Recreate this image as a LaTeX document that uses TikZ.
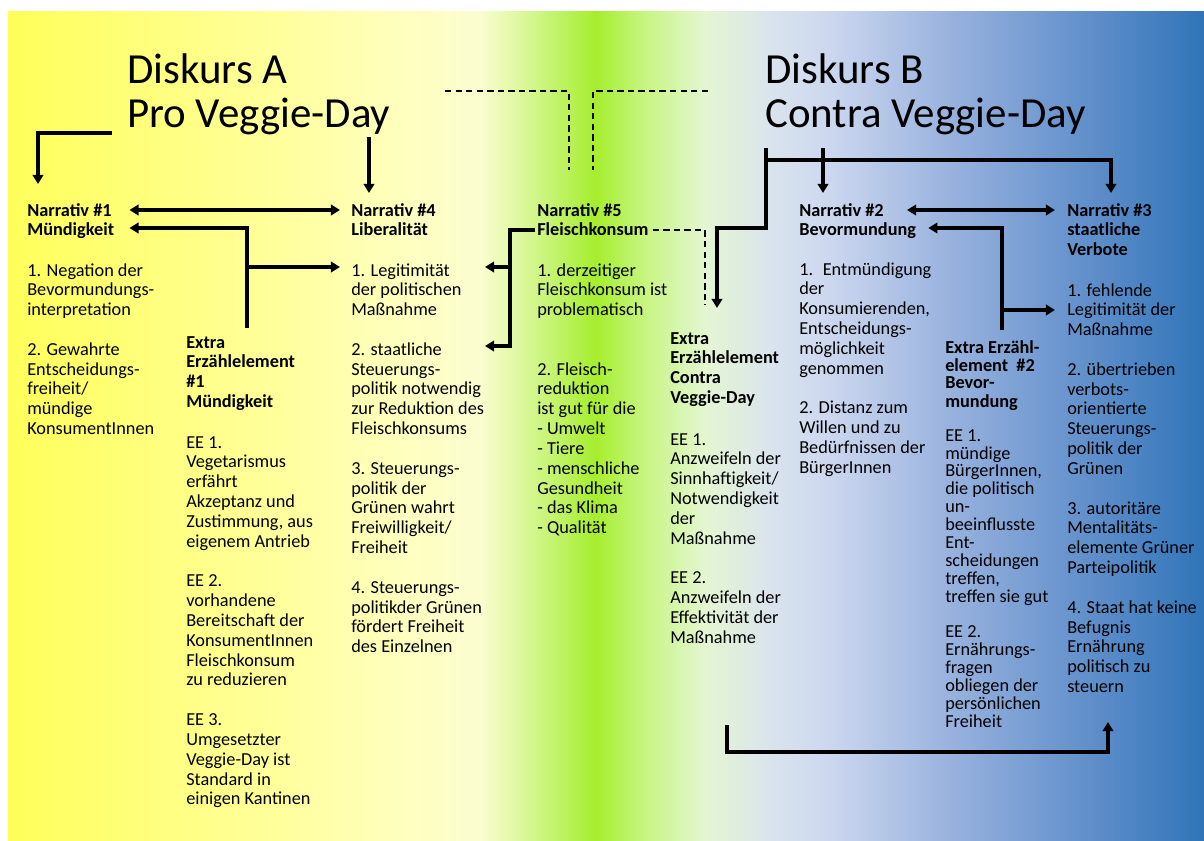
\documentclass[tikz,border=0pt]{standalone}
\usepackage{fontspec}
\setmainfont{Carlito}
\usetikzlibrary{arrows.meta,calc}

\definecolor{bg0}{RGB}{255,255,90}
\definecolor{bg1}{RGB}{255,255,118}
\definecolor{bg2}{RGB}{255,255,152}
\definecolor{bg3}{RGB}{255,255,190}
\definecolor{bg4}{RGB}{251,253,208}
\definecolor{bg5}{RGB}{205,245,130}
\definecolor{bg6}{RGB}{165,238,45}
\definecolor{bg7}{RGB}{200,245,130}
\definecolor{bg8}{RGB}{228,246,210}
\definecolor{bg9}{RGB}{218,228,238}
\definecolor{bg10}{RGB}{204,215,239}
\definecolor{bg11}{RGB}{152,178,222}
\definecolor{bg12}{RGB}{100,145,204}
\definecolor{bg13}{RGB}{48,116,184}

\newcommand\textlines[1]{\begin{tabular}[t]{@{}l@{}}#1\end{tabular}}

\begin{document}
\begin{tikzpicture}[
    x=0.025cm, y=-0.025cm,
    >={Triangle[length=6.5pt,width=7.5pt]},
    txt/.style={anchor=base west,inner sep=0pt,font=\fontsize{13}{14.1}\selectfont},
    head/.style={txt,font=\fontsize{13}{14.1}\selectfont\bfseries},
    title/.style={txt,font=\fontsize{30.5}{31.6}\selectfont},
    arrow/.style={->,line width=2.6pt},
    dashline/.style={dash pattern=on 4.5pt off 3pt,line width=1pt}
]
    \useasboundingbox (0,0) rectangle (1204,841);
    \fill[white] (0,0) rectangle (1204,841);
    \foreach \xa/\ca/\xb/\cb in {8/bg0/120/bg1,120/bg1/260/bg2,260/bg2/400/bg3,400/bg3/480/bg4,
        480/bg4/540/bg5,540/bg5/595/bg6,595/bg6/645/bg7,645/bg7/705/bg8,705/bg8/770/bg9,
        770/bg9/830/bg10,830/bg10/950/bg11,950/bg11/1080/bg12,1080/bg12/1204/bg13}
        \shade[left color=\ca,right color=\cb] (\xa,12) rectangle (\xb+0.5,840);

    \node[title] (tA) at (127,83) {\textlines{Diskurs A\\Pro Veggie-Day}};
    \node[title] (tB) at (765,83) {\textlines{Diskurs B\\Contra Veggie-Day}};

    \node[head] (hd1) at (27,216) {\textlines{Narrativ \#1\\Mündigkeit}};
    \node[txt] (bd1) at (27,276) {\textlines{1. Negation der\\Bevormundungs-\\interpretation\\[14.1pt]2. Gewahrte\\Entscheidungs-\\freiheit/\\mündige\\KonsumentInnen}};
    \node[head] (hx1) at (186,348) {\textlines{Extra\\Erzählelement\\\#1\\Mündigkeit}};
    \node[txt] (bx1) at (186,448) {\textlines{EE 1.\\Vegetarismus\\erfährt\\Akzeptanz und\\Zustimmung, aus\\eigenem Antrieb\\[14.1pt]EE 2.\\vorhandene\\Bereitschaft der\\KonsumentInnen\\Fleischkonsum\\zu reduzieren\\[14.1pt]EE 3.\\Umgesetzter\\Veggie-Day ist\\Standard in\\einigen Kantinen}};
    \node[head] (hd4) at (351,216) {\textlines{Narrativ \#4\\Liberalität}};
    \node[txt] (bd4) at (351,276) {\textlines{1. Legitimität\\der politischen\\Maßnahme\\[14.1pt]2. staatliche\\Steuerungs-\\politik notwendig\\zur Reduktion des\\Fleischkonsums\\[14.1pt]3. Steuerungs-\\politik der\\Grünen wahrt\\Freiwilligkeit/\\Freiheit\\[14.1pt]4. Steuerungs-\\politikder Grünen\\fördert Freiheit\\des Einzelnen}};
    \node[head] (hd5) at (537,216) {\textlines{Narrativ \#5\\Fleischkonsum}};
    \node[txt] (bd5) at (537,276) {\textlines{1. derzeitiger\\Fleischkonsum ist\\problematisch\\[28.2pt]2. Fleisch-\\reduktion\\ist gut für die\\- Umwelt\\- Tiere\\- menschliche\\Gesundheit\\- das Klima\\- Qualität}};
    \node[head] (hxc) at (670,344) {\textlines{Extra\\Erzählelement\\Contra\\Veggie-Day}};
    \node[txt] (bxc) at (670,445) {\textlines{EE 1.\\Anzweifeln der\\Sinnhaftigkeit/\\Notwendigkeit\\der\\Maßnahme\\[14.1pt]EE 2.\\Anzweifeln der\\Effektivität der\\Maßnahme}};
    \node[head] (hd2) at (799,216) {\textlines{Narrativ \#2\\Bevormundung}};
    \node[txt] (bd2) at (799,275) {\textlines{1.~ Entmündigung\\der\\Konsumierenden,\\Entscheidungs-\\möglichkeit\\genommen\\[14.1pt]2. Distanz zum\\Willen und zu\\Bedürfnissen der\\BürgerInnen}};
    \node[head,font=\fontsize{13}{12.6}\selectfont\bfseries] (hx2) at (945,353) {\textlines{Extra Erzähl-\\element~ \#2\\Bevor-\\mundung}};
    \node[txt,font=\fontsize{13}{12.6}\selectfont] (bx2) at (945,441) {\textlines{EE 1.\\mündige\\BürgerInnen,\\die politisch\\un-\\beeinflusste\\Ent-\\scheidungen\\treffen,\\treffen sie gut\\[12.6pt]EE 2.\\Ernährungs-\\fragen\\obliegen der\\persönlichen\\Freiheit}};
    \node[head] (hd3) at (1067,216) {\textlines{Narrativ \#3\\staatliche\\Verbote}};
    \node[txt] (bd3) at (1067,296) {\textlines{1. fehlende\\Legitimität der\\Maßnahme\\[14.1pt]2. übertrieben\\verbots-\\orientierte\\Steuerungs-\\politik der\\Grünen\\[14.1pt]3. autoritäre\\Mentalitäts-\\elemente Grüner\\Parteipolitik\\[14.1pt]4. Staat hat keine\\Befugnis\\Ernährung\\politisch zu\\steuern}};

    \coordinate (sA) at (112,133);
    \coordinate (sA4) at (369,137);
    \coordinate (sB) at (766,148);
    \coordinate (sB2) at (823,148);
    \coordinate (dL) at (445,91);
    \coordinate (dR) at (708,91);
    \coordinate (k5) at ($(bd4.base west)+(159,-9)$);

    \draw[arrow] (sA) -| ($(hd1.base west)+(11,-32)$);
    \draw[arrow] (sA4) -- ($(hd4.base west)+(18,-23)$);
    \draw[arrow,<->] ($(hd1.base east)+(15,-6)$) -- ($(hd4.base west)+(-11,-6)$);
    \draw[arrow] ($(hx1.base west)+(61,-20)$) |- ($(hd1.base east)+(15,12)$);
    \draw[arrow] ($(hx1.base west)+(61,-20)$) |- ($(bd4.base west)+(-11,-9)$);
    \draw[arrow] ($(hd5.base west)+(-2,14)$) -| (k5) -- ($(bd4.base west)+(134,-9)$);
    \draw[arrow] (k5) |- ($(bd4.base west)+(134,70)$);
    \draw[dashline] ($(hd5.base east)+(4,14)$) -| ($(hxc.base west)+(35,-39)$);
    \draw[dashline] (dL) -| ++(124,79);
    \draw[dashline] (dR) -| ++(-115,79);

    \draw[arrow] (sB) -- ++(0,80) -| ($(hxc.base west)+(47,-36)$);
    \draw[arrow] (sB2) -- ($(hd2.base west)+(24,-23)$);
    \draw[arrow] ($(sB)+(0,12)$) -| ($(hd3.base west)+(44,-23)$);
    \draw[arrow,<->] ($(hd2.base west)+(108,-6)$) -- ($(hd3.base west)+(-12,-6)$);
    \draw[arrow] ($(hx2.base west)+(57,-23)$) |- ($(hd2.base east)+(12,12)$);
    \draw[arrow] ($(hx2.base west)+(57,-23)$) |- ($(bd3.base west)+(-12,14)$);
    \draw[arrow] ($(bxc.base west)+(57,280)$) -- ++(0,27) -| ($(bd3.base west)+(41,426)$);
\end{tikzpicture}
\end{document}
